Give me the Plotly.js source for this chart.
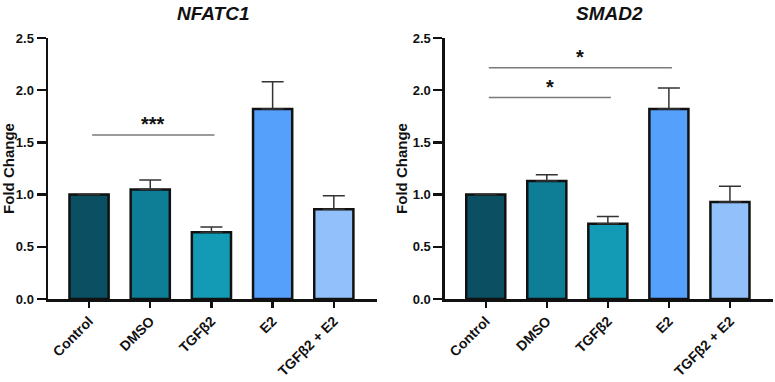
<!DOCTYPE html>
<html>
<head>
<meta charset="utf-8">
<script src="https://cdn.plot.ly/plotly-3.0.1.min.js"></script>
<style>
  html, body { margin: 0; padding: 0; background: #fff; }
  #chart { width: 775px; height: 382px; }
</style>
</head>
<body>
<div id="chart"></div>
<script>
// Treatment groups shared by both genes
const groups = ['Control', 'DMSO', 'TGFβ2', 'E2', 'TGFβ2 + E2'];
const groupColors = ['#0b4f62', '#0e7e96', '#139ab4', '#55a0fa', '#92c0fa'];

// NFATC1 fold change (mean) and upper error (SEM)
const nfatc1Mean = [1.00, 1.05, 0.64, 1.82, 0.86];
const nfatc1Err  = [0.00, 0.09, 0.05, 0.26, 0.13];

// SMAD2 fold change (mean) and upper error (SEM)
const smad2Mean = [1.00, 1.13, 0.72, 1.82, 0.93];
const smad2Err  = [0.00, 0.06, 0.07, 0.20, 0.15];

// Significance brackets: [from group, to group, height, label]
const nfatc1Sig = [['Control', 'TGFβ2', 1.57, '***']];
const smad2Sig = [
  ['Control', 'TGFβ2', 1.93, '*'],
  ['Control', 'E2', 2.215, '*']
];

const fontFamily = 'Liberation Sans, Arial, sans-serif';

function barTrace(values, errors, xa, ya) {
  return {
    type: 'bar',
    x: groups,
    y: values,
    xaxis: xa,
    yaxis: ya,
    width: 0.64,
    marker: { color: groupColors, line: { color: '#111', width: 2.5 } },
    error_y: {
      type: 'data', symmetric: false,
      array: errors, arrayminus: errors.map(() => 0),
      color: '#333', thickness: 1.5, width: 11
    },
    showlegend: false,
    hoverinfo: 'x+y'
  };
}

const xBase = {
  type: 'category',
  range: [-0.67, 4.7],
  showline: true, linecolor: '#111', linewidth: 2.5,
  ticks: 'outside', ticklen: 6, tickwidth: 2.5, tickcolor: '#111',
  tickangle: -45,
  tickfont: { family: fontFamily, size: 14, color: '#111', weight: 'bold' },
  showgrid: false, zeroline: false, fixedrange: true
};
const yBase = {
  range: [0, 2.5],
  tickvals: [0, 0.5, 1, 1.5, 2, 2.5],
  ticktext: ['0.0', '0.5', '1.0', '1.5', '2.0', '2.5'],
  showline: true, linecolor: '#111', linewidth: 2.5,
  ticks: 'outside', ticklen: 9, tickwidth: 2.5, tickcolor: '#111',
  tickfont: { family: fontFamily, size: 13, color: '#111', weight: 'bold' },
  title: { text: 'Fold Change', standoff: 2,
           font: { family: fontFamily, size: 15, color: '#111', weight: 'bold' } },
  showgrid: false, zeroline: false, fixedrange: true
};

const shapes = [];
const annotations = [];

function addBrackets(list, xref, yref) {
  list.forEach(([a, b, h, label]) => {
    const i0 = groups.indexOf(a), i1 = groups.indexOf(b);
    shapes.push({
      type: 'line', xref: xref, yref: yref,
      x0: i0 + 0.05, x1: i1 + 0.05, y0: h, y1: h,
      line: { color: '#7a7a7a', width: 1.5 }
    });
    annotations.push({
      xref: xref, yref: yref, x: (i0 + i1) / 2 + 0.05, y: h,
      text: label, showarrow: false, yanchor: 'bottom', yshift: -2,
      font: { family: fontFamily, size: 20, color: '#111', weight: 'bold' }
    });
  });
}
addBrackets(nfatc1Sig, 'x', 'y');
addBrackets(smad2Sig, 'x2', 'y2');

// Panel titles (gene names in bold italic)
annotations.push({
  xref: 'paper', yref: 'paper', x: 0.275, y: 1.0, yshift: 25,
  text: '<b><i>NFATC1</i></b>', showarrow: false, xanchor: 'center', yanchor: 'middle',
  font: { family: fontFamily, size: 19, color: '#111' }
});
annotations.push({
  xref: 'paper', yref: 'paper', x: 0.787, y: 1.0, yshift: 25,
  text: '<b><i>SMAD2</i></b>', showarrow: false, xanchor: 'center', yanchor: 'middle',
  font: { family: fontFamily, size: 19, color: '#111' }
});

const layout = {
  width: 775, height: 382,
  margin: { l: 0, r: 0, t: 38, b: 83 },
  paper_bgcolor: '#fff', plot_bgcolor: '#fff',
  bargap: 0.36,
  xaxis: Object.assign({}, xBase, { domain: [0.062, 0.486], anchor: 'y' }),
  yaxis: Object.assign({}, yBase, { domain: [0, 1], anchor: 'x' }),
  xaxis2: Object.assign({}, xBase, { domain: [0.574, 0.997], anchor: 'y2' }),
  yaxis2: Object.assign({}, yBase, { domain: [0, 1], anchor: 'x2' }),
  shapes: shapes,
  annotations: annotations
};

Plotly.newPlot('chart', [
  barTrace(nfatc1Mean, nfatc1Err, 'x', 'y'),
  barTrace(smad2Mean, smad2Err, 'x2', 'y2')
], layout, { displayModeBar: false, staticPlot: true });
</script>
</body>
</html>
